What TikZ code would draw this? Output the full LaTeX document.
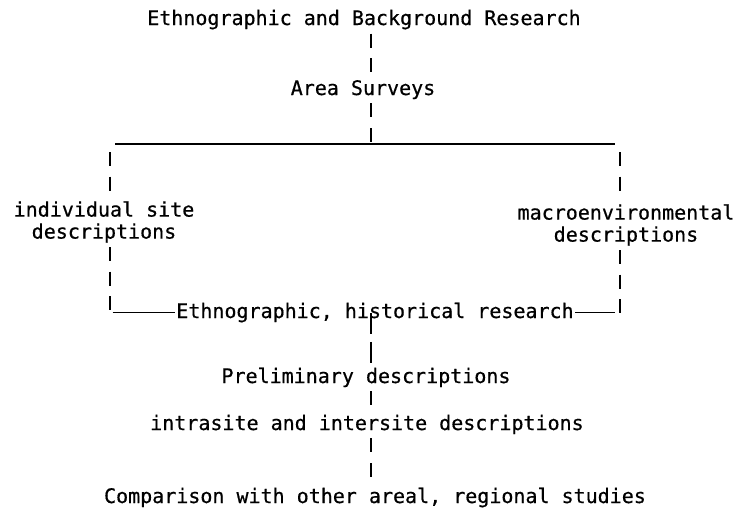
\documentclass[tikz,border=0pt]{standalone}
\usepackage{fontspec}
\newfontfamily\typewr[FakeBold=0.6]{DejaVu Sans Mono}
\usetikzlibrary{calc}
\tikzset{
  lbl/.style={
    font=\typewr\fontsize{15}{16.5}\selectfont,
    inner ysep=3pt,
    inner xsep=1pt,
    align=center
  },
  vline/.style={
    line width=1.6pt,
    dash pattern=on 10.5pt off 8pt
  },
  hline/.style={
    line width=1pt
  }
}

\begin{document}
\begin{tikzpicture}[x=0.75pt,y=-0.75pt]
\useasboundingbox (0,0) rectangle (735,511);
\node[lbl,anchor=base] (title) at (364,25) {Ethnographic and Background Research};
\node[lbl,anchor=base] (area) at (363,95) {Area Surveys};
\node[lbl,anchor=north] (site) at (104,197) {individual site\\descriptions};
\node[lbl,anchor=north] (macro) at (626,200) {macroenvironmental\\descriptions};
\node[lbl,anchor=base] (hist) at (375,318) {Ethnographic, historical research};
\node[lbl,anchor=base] (prelim) at (366,383) {Preliminary descriptions};
\node[lbl,anchor=base] (intra) at (367,430) {intrasite and intersite descriptions};
\node[lbl,anchor=base] (comp) at (375,503) {Comparison with other areal, regional studies};
\coordinate (m) at (371,0);
\coordinate (tl) at (110,144);
\coordinate (tr) at (620,144);
\coordinate (bl) at (110,0);
\coordinate (br) at (620,0);

\draw[vline] (title.south -| m) -- (area.north -| m);
\draw[vline] (area.south -| m) -- (m |- tl);
\draw[hline] ([xshift=4pt]tl) -- ([xshift=-4pt]tr);
\draw[vline,shorten <=6pt] (tl) -- (site.north -| tl);
\draw[vline,shorten <=6pt] (tr) -- (macro.north -| tr);
\draw[vline] (site.south -| bl) -- (bl |- hist.west);
\draw[vline] (macro.south -| br) -- ([yshift=-3pt]br |- hist.east);
\draw[hline] ([xshift=2pt]bl |- hist.west) -- (hist.west);
\draw[hline] (hist.east) -- ([xshift=-4pt]br |- hist.east);
\draw[vline,dash pattern=on 16pt off 6pt] (hist.center -| m) -- (prelim.north -| m);
\draw[vline] (prelim.south -| m) -- (intra.north -| m);
\draw[vline] (intra.south -| m) -- (comp.north -| m);
\end{tikzpicture}
\end{document}
